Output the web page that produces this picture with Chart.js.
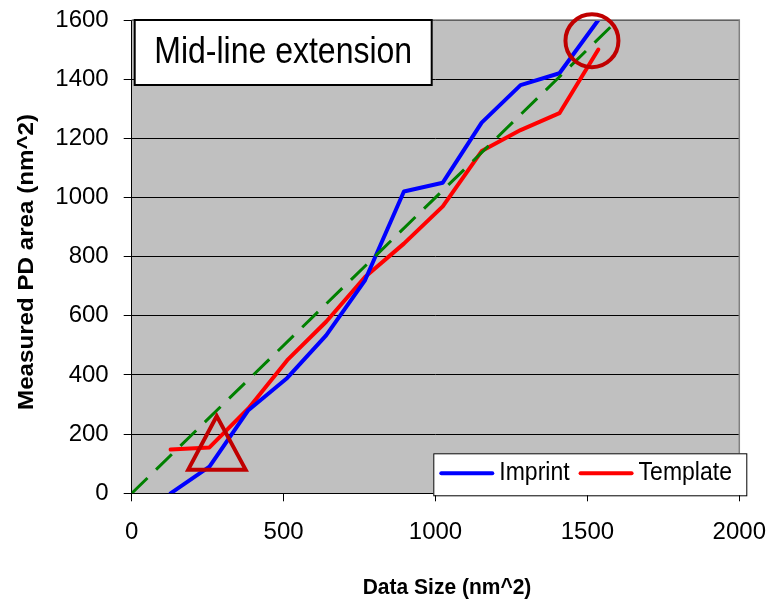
<!DOCTYPE html>
<html>
<head>
<meta charset="utf-8">
<title>Mid-line extension</title>
<script src="https://cdn.jsdelivr.net/npm/chart.js@4.4.1/dist/chart.umd.min.js"></script>
<style>
  html, body { margin: 0; padding: 0; background: #fff; }
  canvas { display: block; }
</style>
</head>
<body>
<canvas id="chart" width="770" height="603"></canvas>
<script>
// data
const dataSize = [128, 256, 384, 512, 640, 768, 896, 1024, 1152, 1280, 1408, 1536];
const imprint  = [0, 90, 281, 390, 534, 720, 1020, 1050, 1253, 1380, 1420, 1600];
const template = [148, 155, 287, 450, 580, 731, 844, 970, 1157, 1228, 1285, 1500];
const refLineX = [0, 1600];
const refLineY = [0, 1600];

const xTickValues = [0, 500, 1000, 1500, 2000];
const yTickValues = [0, 200, 400, 600, 800, 1000, 1200, 1400, 1600];

const chartTitle = 'Mid-line extension';
const xTitle = 'Data Size (nm^2)';
const yTitle = 'Measured PD area (nm^2)';
const legendLabels = ['Imprint', 'Template'];

// annotation shapes, in data units
const circleMark = { x: 1515, y: 1530 };
const triangleMark = [{ x: 280, y: 261 }, { x: 375, y: 80 }, { x: 186, y: 80 }];

const FONT = '"Liberation Sans", Arial, sans-serif';
Chart.defaults.font.family = FONT;

function toPoints(xs, ys) {
  return xs.map((x, i) => ({ x: x, y: ys[i] }));
}

// stretched text helper (the original chart text is a bit taller than wide)
function drawText(ctx, text, x, y, font, sx, sy, rot, align) {
  ctx.save();
  ctx.translate(x, y);
  if (rot) ctx.rotate(rot);
  ctx.scale(sx, sy);
  ctx.font = font;
  ctx.fillStyle = '#000';
  ctx.textAlign = align || 'center';
  ctx.textBaseline = 'middle';
  ctx.fillText(text, 0, 0);
  ctx.restore();
}

const decor = {
  id: 'decor',
  beforeDraw(chart) {
    const { ctx, chartArea: a } = chart;
    ctx.save();
    ctx.fillStyle = '#C0C0C0';
    ctx.fillRect(a.left, a.top, a.right - a.left, a.bottom - a.top);
    ctx.restore();
  },
  afterDraw(chart) {
    const { ctx, chartArea: a } = chart;
    const xs = chart.scales.x, ys = chart.scales.y;
    ctx.save();

    // plot border top / right
    ctx.strokeStyle = '#808080';
    ctx.lineWidth = 1.5;
    ctx.beginPath();
    ctx.moveTo(a.left, a.top);
    ctx.lineTo(a.right, a.top);
    ctx.lineTo(a.right, a.bottom);
    ctx.stroke();

    // red circle and triangle
    ctx.strokeStyle = '#C00000';
    ctx.lineWidth = 4;
    ctx.beginPath();
    ctx.arc(xs.getPixelForValue(circleMark.x), ys.getPixelForValue(circleMark.y), 26.5, 0, Math.PI * 2);
    ctx.stroke();
    ctx.lineJoin = 'miter';
    ctx.beginPath();
    triangleMark.forEach((p, i) => {
      const px = xs.getPixelForValue(p.x), py = ys.getPixelForValue(p.y);
      if (i === 0) ctx.moveTo(px, py); else ctx.lineTo(px, py);
    });
    ctx.closePath();
    ctx.stroke();

    // title box
    const tb = { left: a.left + 3, top: a.top, w: 297, h: 65 };
    ctx.fillStyle = '#fff';
    ctx.fillRect(tb.left, tb.top, tb.w, tb.h);
    ctx.strokeStyle = '#000';
    ctx.lineWidth = 2;
    ctx.strokeRect(tb.left, tb.top, tb.w, tb.h);
    drawText(ctx, chartTitle, tb.left + tb.w / 2, tb.top + 33, '32px ' + FONT, 1, 1.16);

    // legend box
    const lb = { left: a.right - 306, top: a.bottom - 40, w: 313, h: 42 };
    ctx.fillStyle = '#fff';
    ctx.fillRect(lb.left, lb.top, lb.w, lb.h);
    ctx.strokeStyle = '#000';
    ctx.lineWidth = 1;
    ctx.strokeRect(lb.left + 0.5, lb.top + 0.5, lb.w, lb.h);
    let lx = lb.left + 8;
    const ly = lb.top + 20;
    chart.data.datasets.filter(d => legendLabels.includes(d.label)).forEach(d => {
      ctx.strokeStyle = d.borderColor;
      ctx.lineWidth = 4;
      ctx.lineCap = 'round';
      ctx.beginPath();
      ctx.moveTo(lx, ly);
      ctx.lineTo(lx + 51, ly);
      ctx.stroke();
      drawText(ctx, d.label, lx + 58, ly, '23px ' + FONT, 1, 1.1, 0, 'left');
      ctx.font = '23px ' + FONT;
      lx += 58 + ctx.measureText(d.label).width + 11;
    });

    // axis titles
    drawText(ctx, xTitle, 447, 588, 'bold 21px ' + FONT, 1, 1.05);
    drawText(ctx, yTitle, 27, 262, 'bold 21px ' + FONT, 1.15, 1.05, -Math.PI / 2);

    ctx.restore();
  }
};

const ctx = document.getElementById('chart');
new Chart(ctx, {
  type: 'line',
  data: {
    datasets: [
      {
        label: 'Reference',
        data: toPoints(refLineX, refLineY),
        borderColor: '#008000',
        borderWidth: 3,
        borderDash: [22, 12],
        pointRadius: 0
      },
      {
        label: 'Imprint',
        data: toPoints(dataSize, imprint),
        borderColor: '#0000FF',
        borderWidth: 4,
        borderJoinStyle: 'round',
        borderCapStyle: 'round',
        pointRadius: 0
      },
      {
        label: 'Template',
        data: toPoints(dataSize, template),
        borderColor: '#FF0000',
        borderWidth: 4,
        borderJoinStyle: 'round',
        borderCapStyle: 'round',
        pointRadius: 0
      }
    ]
  },
  options: {
    responsive: false,
    animation: false,
    devicePixelRatio: 1,
    layout: { padding: { top: 20, right: 30.7, bottom: 0, left: 0 } },
    plugins: {
      legend: { display: false },
      tooltip: { enabled: false }
    },
    scales: {
      x: {
        type: 'linear',
        min: 0,
        max: 2000,
        afterBuildTicks(s) { s.ticks = xTickValues.map(v => ({ value: v })); },
        afterFit(s) { s.height = 109.7; s.paddingLeft = 0; s.paddingRight = 0; },
        ticks: { font: { size: 24 }, color: '#000', padding: 17, maxRotation: 0, callback: v => String(v) },
        grid: { drawOnChartArea: false, tickLength: 8, color: '#000' },
        border: { color: '#000' }
      },
      y: {
        min: 0,
        max: 1600,
        afterBuildTicks(s) { s.ticks = yTickValues.map(v => ({ value: v })); },
        afterFit(s) { s.width = 131.7; s.paddingTop = 0; s.paddingBottom = 0; },
        ticks: { font: { size: 24 }, color: '#000', padding: 15, callback: v => String(v) },
        grid: { color: '#000', tickLength: 8 },
        border: { color: '#000' }
      }
    }
  },
  plugins: [decor]
});
</script>
</body>
</html>
